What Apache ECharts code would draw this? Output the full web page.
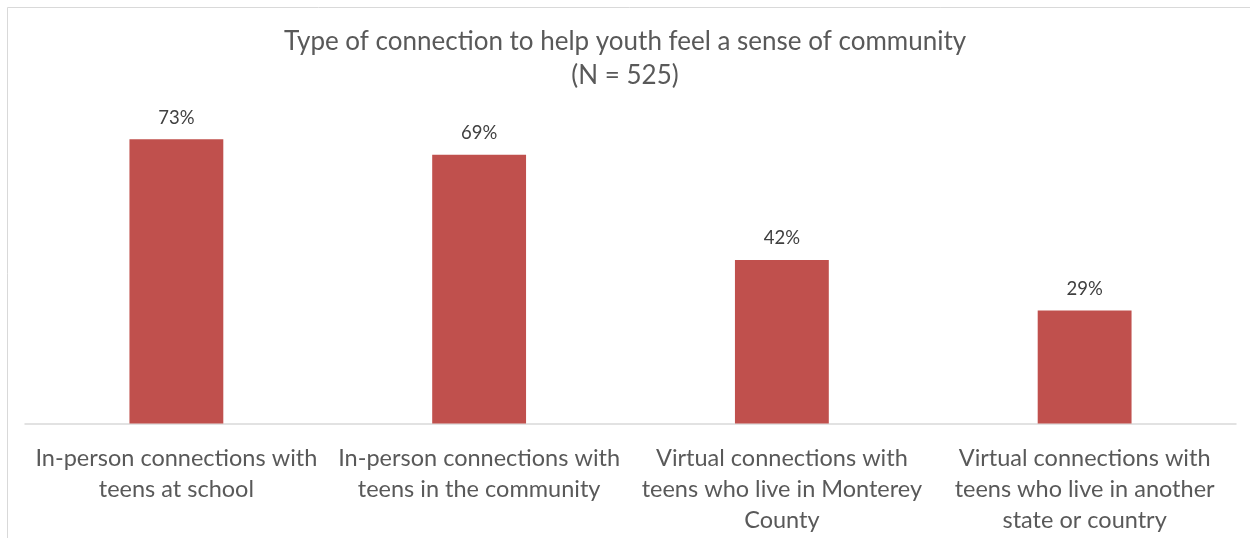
<!DOCTYPE html>
<html>
<head>
<meta charset="utf-8">
<script src="https://cdn.jsdelivr.net/npm/echarts@6/dist/echarts.min.js"></script>
<style>
  html, body { margin: 0; padding: 0; background: #fff; }
  #chart { width: 1250px; height: 538px; }
</style>
</head>
<body>
<div id="chart"></div>
<script>
// Survey results: share of youth for each type of connection
const categories = [
  'In-person connections with\nteens at school',
  'In-person connections with\nteens in the community',
  'Virtual connections with\nteens who live in Monterey\nCounty',
  'Virtual connections with\nteens who live in another\nstate or country'
];
const percentValues = [73, 69, 42, 29];
const titleLines = ['Type of connection to help youth feel a sense of community', '(N = 525)'];

const textColor = '#595959';
const fontFamily = 'Lato, "Open Sans", sans-serif';

const chart = echarts.init(document.getElementById('chart'));
chart.setOption({
  animation: false,
  backgroundColor: '#fff',
  title: {
    text: titleLines.join('\n'),
    left: 'center',
    top: 20,
    textStyle: {
      color: textColor,
      fontFamily: fontFamily,
      fontWeight: 'normal',
      fontSize: 26,
      lineHeight: 34
    }
  },
  graphic: [{
    type: 'rect',
    shape: { x: 7.5, y: 7.5, width: 1260, height: 560 },
    style: { fill: 'none', stroke: '#D9D9D9', lineWidth: 1 },
    silent: true,
    z: -1
  }],
  grid: { left: 25, right: 14, top: 112, bottom: 114.5, containLabel: false },
  xAxis: {
    type: 'category',
    data: categories,
    axisTick: { show: false },
    axisLine: { lineStyle: { color: '#D9D9D9', width: 1.5 } },
    axisLabel: {
      color: textColor,
      fontFamily: fontFamily,
      fontSize: 23.5,
      lineHeight: 31,
      margin: 19,
      interval: 0
    }
  },
  yAxis: {
    type: 'value',
    min: 0,
    max: 80,
    show: false,
    splitLine: { show: false }
  },
  series: [{
    type: 'bar',
    data: percentValues,
    barWidth: '31%',
    itemStyle: { color: '#C0504D' },
    label: {
      show: true,
      position: 'top',
      distance: 12,
      formatter: p => p.value + '%',
      color: '#404040',
      fontFamily: fontFamily,
      fontSize: 18.5
    }
  }]
});
</script>
</body>
</html>
